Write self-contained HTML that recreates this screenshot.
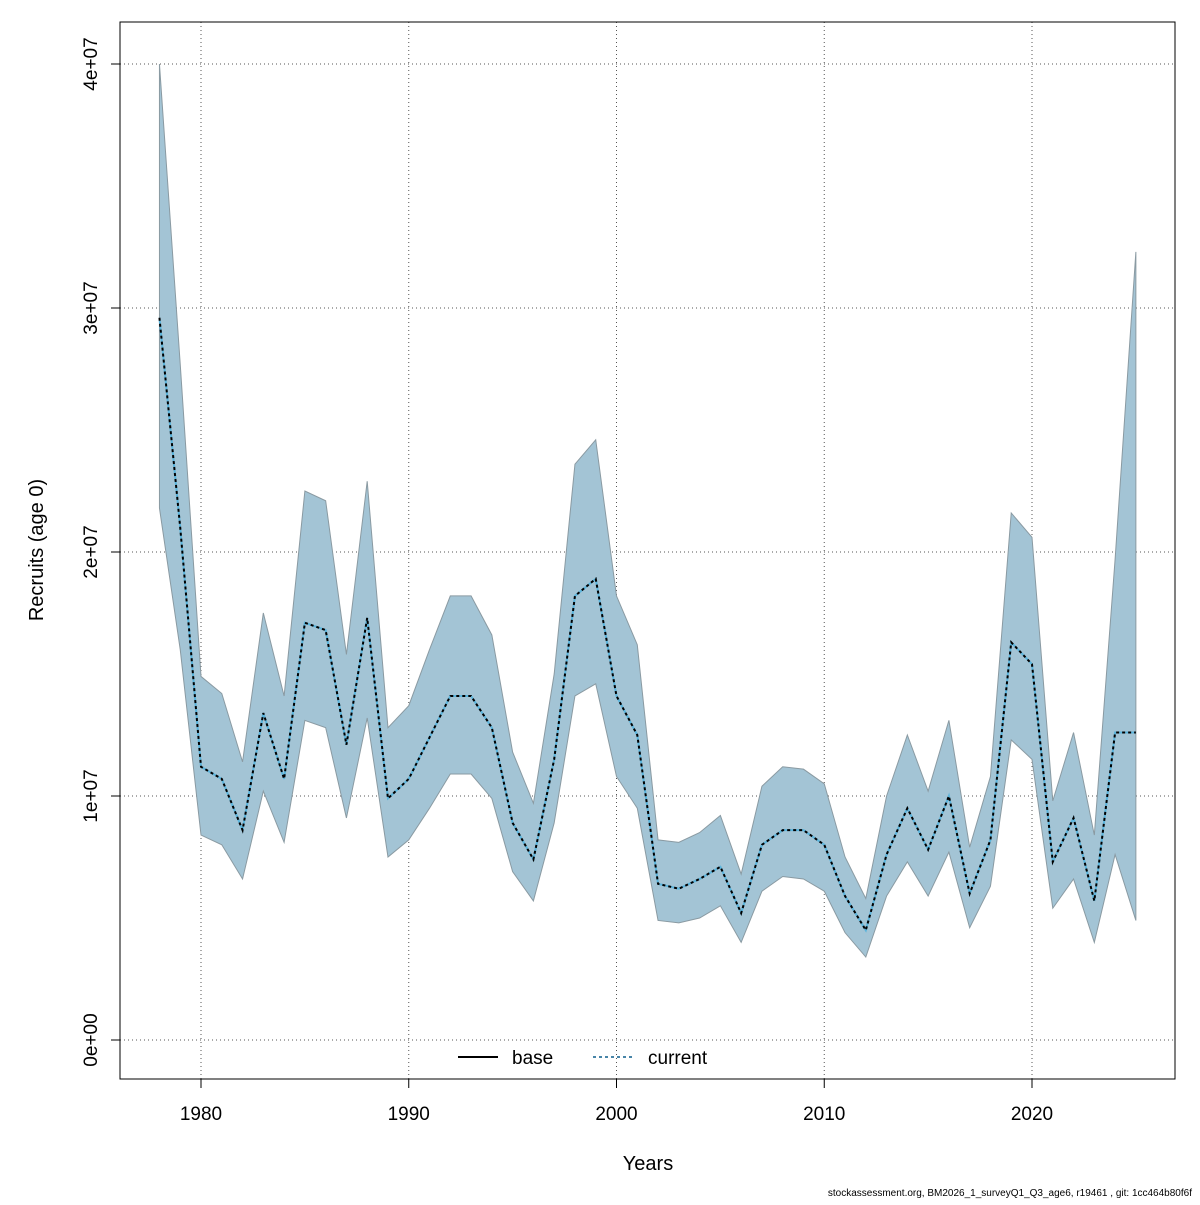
<!DOCTYPE html>
<html><head><meta charset="utf-8"><style>
body{margin:0;background:#fff}
svg{font-family:"Liberation Sans",sans-serif}
</style></head><body>
<svg id="chart" width="1200" height="1200" viewBox="0 0 1200 1200">
<rect x="0" y="0" width="1200" height="1200" fill="#fff"/>
<g id="grid"></g>
<g id="band"></g>
<g id="lines"></g>
<rect x="120" y="22" width="1055" height="1057" fill="none" stroke="#000" stroke-width="1"/>
<g id="axes"></g>
<text x="648" y="1170" font-size="20" text-anchor="middle">Years</text>
<text x="0" y="0" transform="translate(43,550) rotate(-90)" font-size="20" text-anchor="middle">Recruits (age 0)</text>
<g>
<line x1="458" y1="1057" x2="498" y2="1057" stroke="#000" stroke-width="2"/>
<text x="512" y="1064" font-size="19">base</text>
<line x1="593" y1="1057" x2="633" y2="1057" stroke="#0b5d8c" stroke-width="1.5" stroke-dasharray="3,3"/>
<text x="648" y="1064" font-size="19">current</text>
</g>
<text x="1192" y="1196" font-size="10" text-anchor="end">stockassessment.org, BM2026_1_surveyQ1_Q3_age6, r19461 , git: 1cc464b80f6f</text>
</svg>
<script>
const years=[];for(let y=1978;y<=2025;y++)years.push(y);
const median=[2.96,2.1,1.12,1.07,0.86,1.34,1.07,1.71,1.68,1.21,1.73,0.99,1.07,1.24,1.41,1.41,1.28,0.89,0.74,1.15,1.82,1.89,1.41,1.25,0.64,0.62,0.66,0.71,0.52,0.80,0.86,0.86,0.80,0.59,0.45,0.76,0.95,0.78,1.00,0.60,0.82,1.63,1.54,0.73,0.91,0.57,1.26,1.26];
const upper=[4.0,2.77,1.49,1.42,1.14,1.75,1.41,2.25,2.21,1.58,2.29,1.28,1.37,1.60,1.82,1.82,1.66,1.18,0.97,1.50,2.36,2.46,1.82,1.62,0.82,0.81,0.85,0.92,0.68,1.04,1.12,1.11,1.05,0.75,0.58,1.00,1.25,1.02,1.31,0.79,1.08,2.16,2.06,0.98,1.26,0.84,1.97,3.23];
const lower=[2.18,1.6,0.84,0.80,0.66,1.02,0.81,1.31,1.28,0.91,1.32,0.75,0.82,0.95,1.09,1.09,0.99,0.69,0.57,0.89,1.41,1.46,1.08,0.95,0.49,0.48,0.50,0.55,0.40,0.61,0.67,0.66,0.61,0.44,0.34,0.59,0.73,0.59,0.77,0.46,0.63,1.23,1.15,0.54,0.66,0.40,0.76,0.49];
const xTicks=[1980,1990,2000,2010,2020];
const yTicks=[0,1,2,3,4];
const yLabels=["0e+00","1e+07","2e+07","3e+07","4e+07"];
const X=y=>201+(y-1980)*20.775, Y=v=>1040-v*244;
const NS="http://www.w3.org/2000/svg";
function mk(tag,at,parent){const e=document.createElementNS(NS,tag);for(const k in at)e.setAttribute(k,at[k]);document.getElementById(parent).appendChild(e);return e;}
xTicks.forEach(t=>{
 const g=mk('line',{x1:X(t),x2:X(t),y1:22,y2:1079,stroke:'#555','stroke-dasharray':'1,3'},'grid');
 
 
 const tk=mk('line',{x1:X(t),x2:X(t),y1:1079,y2:1088,stroke:'#000'},'axes');
 
 
 const tx=mk('text',{x:X(t),y:1120,'font-size':19,'text-anchor':'middle'},'axes');tx.textContent=t;
 
 
});
yTicks.forEach((t,i)=>{
 const g=mk('line',{x1:120,x2:1175,y1:Y(t),y2:Y(t),stroke:'#555','stroke-dasharray':'1,3'},'grid');
 
 
 const tk=mk('line',{x1:111,x2:120,y1:Y(t),y2:Y(t),stroke:'#000'},'axes');
 
 
 const tx=mk('text',{x:0,y:0,transform:`translate(97,${Y(t)}) rotate(-90)`,'font-size':19,'text-anchor':'middle'},'axes');tx.textContent=yLabels[i];
 
 
});
let pts=years.map((y,i)=>X(y)+','+Y(upper[i]));
for(let i=years.length-1;i>=0;i--)pts.push(X(years[i])+','+Y(lower[i]));
const band=mk('polygon',{points:pts.join(' '),fill:'#a3c4d5',stroke:'#8a9aa2','stroke-width':1},'band');


const lp=years.map((y,i)=>X(y)+','+Y(median[i])).join(' ');
const b=mk('polyline',{points:lp,fill:'none',stroke:'#5ab4dc','stroke-width':2},'lines');


const c=mk('polyline',{points:lp,fill:'none',stroke:'#000','stroke-width':2,'stroke-dasharray':'3,3'},'lines');


</script>
</body></html>
